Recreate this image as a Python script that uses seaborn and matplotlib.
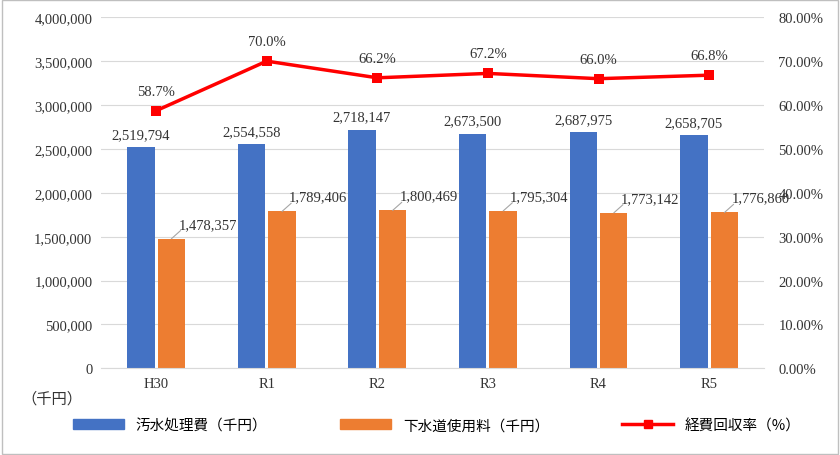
import pandas as pd
import matplotlib.pyplot as plt
import seaborn as sns
from matplotlib.ticker import FuncFormatter
from matplotlib.patches import Patch
from matplotlib.lines import Line2D

years = ['H30', 'R1', 'R2', 'R3', 'R4', 'R5']
cost = [2519794, 2554558, 2718147, 2673500, 2687975, 2658705]
fee = [1478357, 1789406, 1800469, 1795304, 1773142, 1776860]
rate = [58.7, 70.0, 66.2, 67.2, 66.0, 66.8]

jp = 'Noto Sans CJK JP'
num = 'Liberation Serif'

df = pd.DataFrame({'year': years * 2,
                   'value': cost + fee,
                   'series': ['汚水処理費（千円）'] * 6 + ['下水道使用料（千円）'] * 6})

fig = plt.figure(figsize=(8.4, 4.56), dpi=100)
ax = fig.add_axes([0.12, 0.19, 0.79, 0.77])
sns.barplot(data=df, x='year', y='value', hue='series', ax=ax, saturation=1,
            palette=['#4472C4', '#ED7D31'], width=0.55, gap=0.1, legend=False)
ax.set_ylim(0, 4000000)
ax.set_xlim(-0.5, 5.5)
ax.yaxis.set_major_locator(plt.MultipleLocator(500000))
ax.yaxis.set_major_formatter(FuncFormatter(lambda v, p: f'{v:,.0f}'))
ax.grid(axis='y', color='#d9d9d9', lw=0.8)
ax.set_axisbelow(True)
for s in ['top', 'right', 'left']:
    ax.spines[s].set_visible(False)
ax.spines['bottom'].set_color('#d9d9d9')
ax.tick_params(length=0, labelsize=10.5, colors='#333333', pad=6)
for lab in ax.get_xticklabels() + ax.get_yticklabels():
    lab.set_fontfamily(num)
ax.set_xlabel('')
ax.set_ylabel('')

for i, v in enumerate(cost):
    ax.text(i - 0.14, v + 70000, f'{v:,}', ha='center', va='bottom',
            fontsize=10.5, fontfamily=num, color='#333333')
for i, v in enumerate(fee):
    ax.plot([i + 0.14, i + 0.22], [v, v + 90000], color='#a6a6a6', lw=0.8)
    ax.text(i + 0.2, v + 90000, f'{v:,}', ha='left', va='bottom',
            fontsize=10.5, fontfamily=num, color='#333333')

ax2 = ax.twinx()
line = pd.DataFrame({'x': range(len(years)), 'rate': rate})
sns.lineplot(data=line, x='x', y='rate', ax=ax2, color='#FF0000', lw=2.5,
             marker='s', markersize=7, markeredgewidth=0)
ax2.set_ylim(0, 80)
ax2.yaxis.set_major_locator(plt.MultipleLocator(10))
ax2.yaxis.set_major_formatter(FuncFormatter(lambda v, p: f'{v:.2f}%'))
for s in ax2.spines.values():
    s.set_visible(False)
ax2.tick_params(length=0, labelsize=10.5, colors='#333333', pad=10)
for lab in ax2.get_yticklabels():
    lab.set_fontfamily(num)
ax2.set_xlabel('')
ax2.set_ylabel('')
for i, r in enumerate(rate):
    ax2.text(i, r + 3, f'{r:.1f}%', ha='center', va='bottom',
             fontsize=10.5, fontfamily=num, color='#333333')

fig.text(0.025, 0.115, '（千円）', fontsize=11, fontfamily=jp, color='#333333')

handles = [Patch(color='#4472C4'), Patch(color='#ED7D31'),
           Line2D([], [], color='#FF0000', lw=2.5, marker='s', markersize=6)]
fig.legend(handles, ['汚水処理費（千円）', '下水道使用料（千円）', '経費回収率（%）'],
           loc='center', bbox_to_anchor=(0.52, 0.065), ncol=3, frameon=False,
           prop={'family': jp, 'size': 10.5}, columnspacing=5, handlelength=3.5)

fig.patches.append(plt.Rectangle((0.002, 0.002), 0.996, 0.996, transform=fig.transFigure,
                                 fill=False, edgecolor='#bfbfbf', lw=1))
fig.savefig('out.png', dpi=100)
